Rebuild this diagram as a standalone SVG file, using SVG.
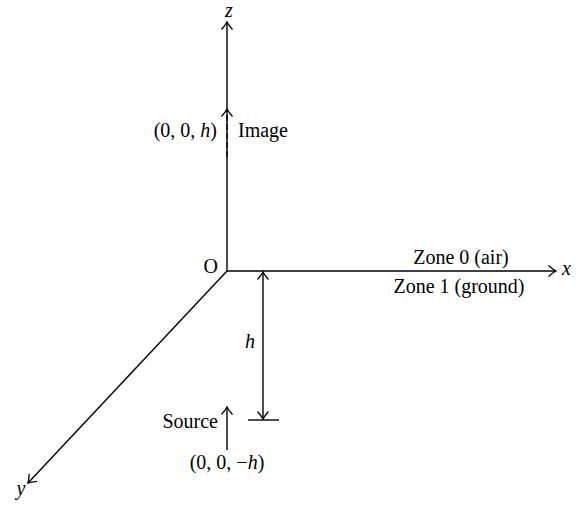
<svg xmlns="http://www.w3.org/2000/svg" width="583" height="506" viewBox="0 0 583 506">
<defs>
<marker id="arr" markerUnits="userSpaceOnUse" viewBox="-9 -7 11 14" refX="0" refY="0" markerWidth="11" markerHeight="14" orient="auto-start-reverse">
<path d="M -7.5 -5.5 Q -3 -1.5 0 0 Q -3 1.5 -7.5 5.5" fill="none" stroke="#000" stroke-width="1.3"/>
</marker>
</defs>
<style>
.ax{stroke:#000;stroke-width:1.4;fill:none}
.t{font-family:"Liberation Serif","Times New Roman",serif;font-size:20px;fill:#000}
.i{font-style:italic}
</style>
<rect width="583" height="506" fill="#fff"/>
<g id="connectors">
<line id="z-axis" class="ax" x1="227" y1="271" x2="227" y2="22" marker-end="url(#arr)"/>
<line id="x-axis" class="ax" x1="227" y1="271" x2="556" y2="271" marker-end="url(#arr)"/>
<line id="y-axis" class="ax" x1="227" y1="271" x2="28" y2="483" marker-end="url(#arr)"/>
<line id="image-arrow" class="ax" x1="227" y1="157" x2="227" y2="109" stroke-width="3" stroke-dasharray="6,3" marker-end="url(#arr)"/>
<line id="h-arrow" class="ax" x1="263" y1="272" x2="263" y2="419" marker-start="url(#arr)" marker-end="url(#arr)"/>
<line id="h-bar" class="ax" x1="248" y1="420" x2="279" y2="420"/>
<line id="source-arrow" class="ax" x1="227" y1="450" x2="227" y2="407" marker-end="url(#arr)"/>
</g>
<g id="origin"><text class="t" x="218" y="273" text-anchor="end">O</text></g>
<g id="z-label"><text class="t i" x="229" y="17" text-anchor="middle">z</text></g>
<g id="x-label"><text class="t i" x="562" y="275">x</text></g>
<g id="y-label"><text class="t i" x="21" y="495" text-anchor="middle">y</text></g>
<g id="image"><text class="t" x="217" y="137" text-anchor="end">(0, 0, <tspan class="i">h</tspan>)</text><text class="t" x="238" y="137">Image</text></g>
<g id="zone0"><text class="t" x="461" y="264" text-anchor="middle">Zone 0 (air)</text></g>
<g id="zone1"><text class="t" x="459" y="293" text-anchor="middle">Zone 1 (ground)</text></g>
<g id="h-label"><text class="t i" x="250" y="348" text-anchor="middle">h</text></g>
<g id="source"><text class="t" x="218" y="428" text-anchor="end">Source</text><text class="t" x="227" y="469" text-anchor="middle">(0, 0, −<tspan class="i">h</tspan>)</text></g>
</svg>
